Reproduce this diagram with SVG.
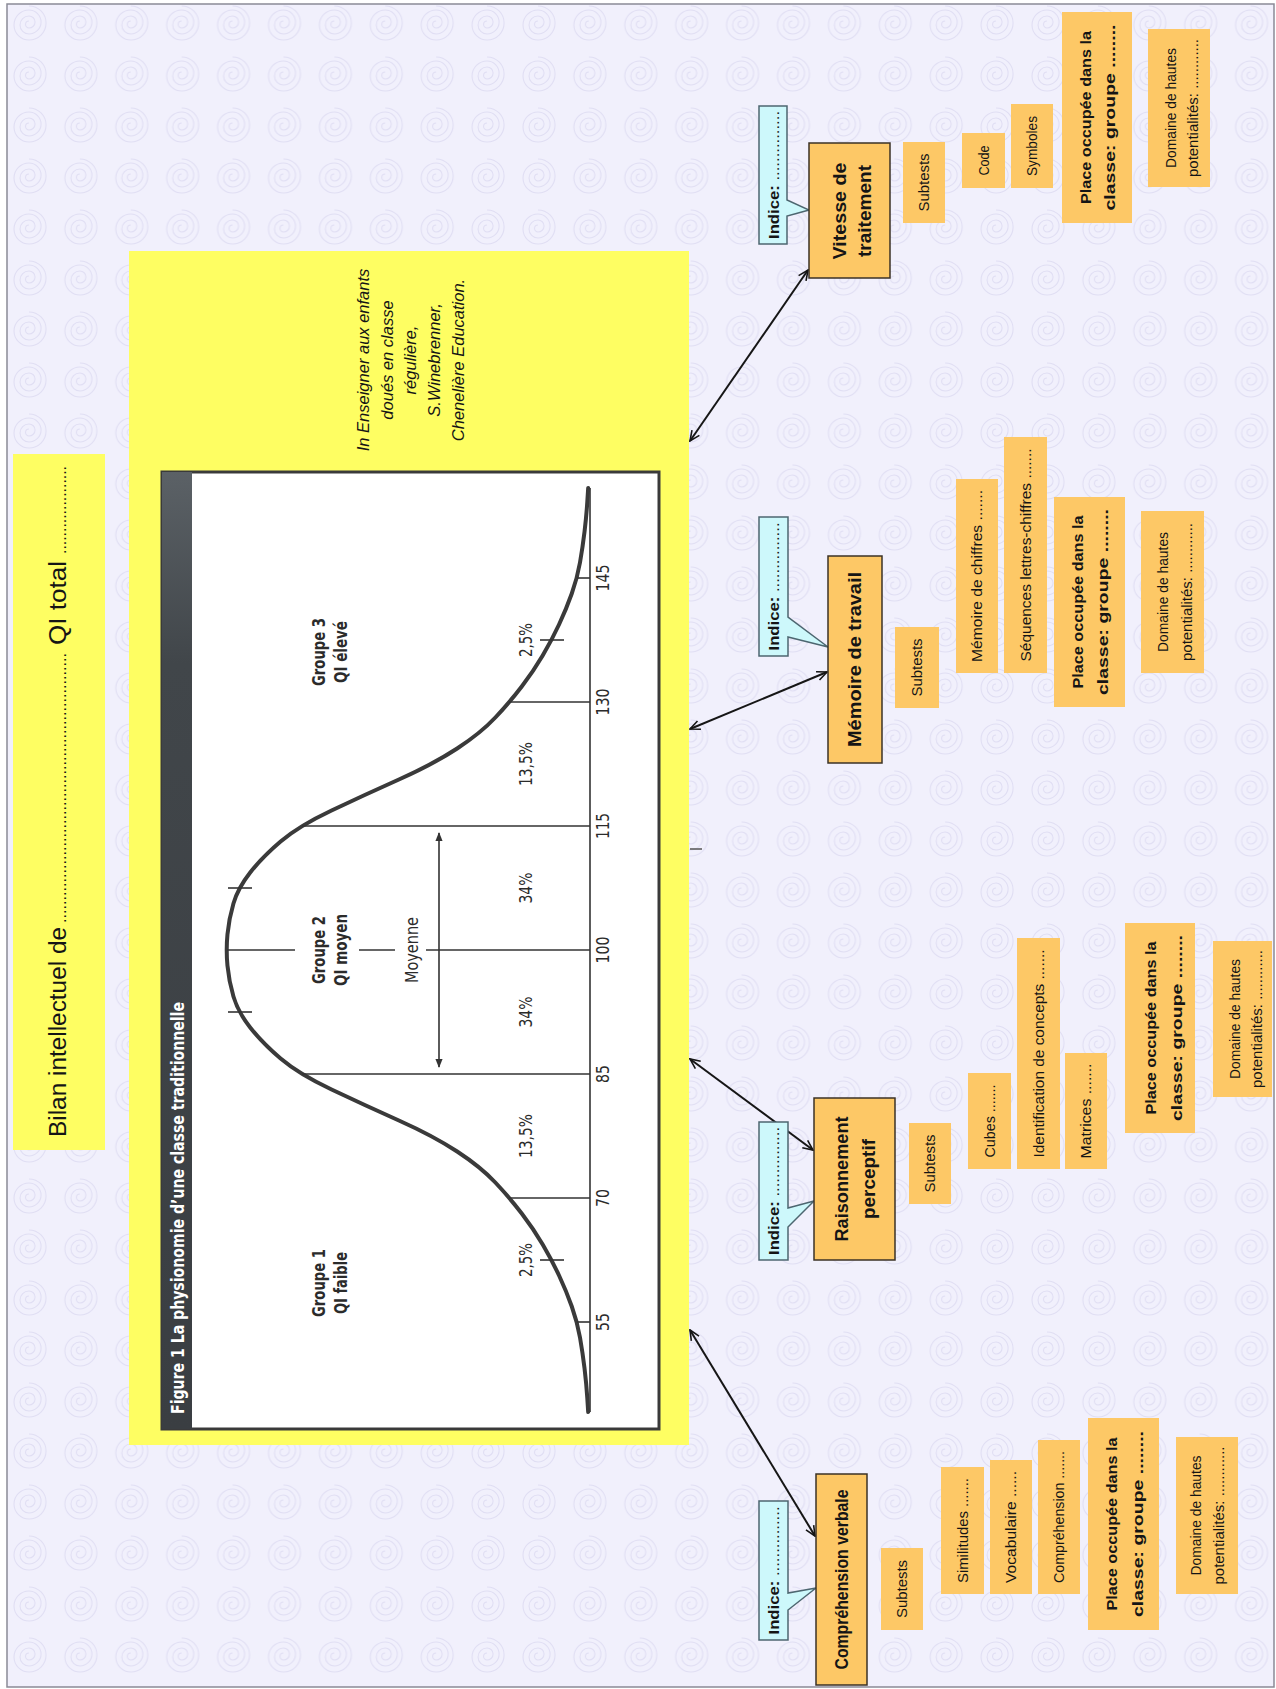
<svg xmlns="http://www.w3.org/2000/svg" width="1276" height="1689" viewBox="0 0 1276 1689">
<defs>
<style>
.t{font-family:"Liberation Sans","DejaVu Sans",sans-serif;fill:#151515;text-anchor:middle;dominant-baseline:central}
.b{font-weight:bold}
.c{font-family:"Liberation Sans Narrow","DejaVu Sans Condensed","Roboto Condensed","Liberation Sans",sans-serif;font-stretch:condensed;fill:#2b2b2b;text-anchor:middle;dominant-baseline:central}
.box{fill:#fdc866}
.main{fill:#fdc866;stroke:#3b3226;stroke-width:1.5}
.ind{fill:#cdf8fb;stroke:#4d6670;stroke-width:1.5}
.yel{fill:#fefe62}
.con{fill:none;stroke:#161616;stroke-width:2;marker-start:url(#ah);marker-end:url(#ah)}
.ln{stroke:#333;stroke-width:1.6;fill:none}
.s14{font-size:14px}
.s15{font-size:15px}
.s18{font-size:18px}
</style>
<pattern id="sp" patternUnits="userSpaceOnUse" x="2" y="-1" width="50.9" height="51">
<path d="M27,7 A17,17 0 0 1 27,41 A15,15 0 0 1 27,11 A12,12 0 0 1 27,35 A9,9 0 0 1 27,17 A6,6 0 0 1 27,29 A3.5,3.5 0 0 1 27,22" fill="none" stroke="#e0def3" stroke-width="1.1"/>
</pattern>
<linearGradient id="hdr" x1="0" y1="0" x2="0" y2="1">
<stop offset="0" stop-color="#5b6166"/>
<stop offset="0.2" stop-color="#41464a"/>
<stop offset="1" stop-color="#3a3e42"/>
</linearGradient>
<marker id="ah" viewBox="0 0 12 12" refX="11" refY="6" markerWidth="12" markerHeight="12" markerUnits="userSpaceOnUse" orient="auto-start-reverse">
<path d="M1,1.5 L11,6 L1,10.5" fill="none" stroke="#161616" stroke-width="1.6"/>
</marker>
<marker id="ch" viewBox="0 0 10 10" refX="9" refY="5" markerWidth="9" markerHeight="9" markerUnits="userSpaceOnUse" orient="auto-start-reverse">
<path d="M0,1 L10,5 L0,9 Z" fill="#333"/>
</marker>
</defs>

<rect width="1276" height="1689" fill="#ffffff"/>
<rect x="7" y="4" width="1267" height="1683" fill="#f1f0fc"/>
<rect x="7" y="4" width="1267" height="1683" fill="url(#sp)"/>
<rect x="7" y="4" width="1267" height="1683" fill="none" stroke="#8a8a96" stroke-width="1.5"/>

<g id="title">
<rect class="yel" x="13" y="454" width="92" height="696"/>
<text class="t" style="text-anchor:start;dominant-baseline:auto;font-size:23px" transform="translate(66,1137) rotate(-90)" textLength="210" lengthAdjust="spacingAndGlyphs">Bilan intellectuel de</text>
<text class="t" style="text-anchor:start;dominant-baseline:auto;font-size:16px" transform="translate(66,923) rotate(-90)" textLength="270" lengthAdjust="spacingAndGlyphs">............................................................</text>
<text class="t" style="text-anchor:start;dominant-baseline:auto;font-size:23px" transform="translate(66,645) rotate(-90)" textLength="84" lengthAdjust="spacingAndGlyphs">QI total</text>
<text class="t" style="text-anchor:start;dominant-baseline:auto;font-size:16px" transform="translate(66,554) rotate(-90)" textLength="88" lengthAdjust="spacingAndGlyphs">....................</text>
</g>

<g id="marks">
<line x1="131" y1="841" x2="131" y2="852" stroke="#222" stroke-width="1.5"/>
<line x1="690" y1="849" x2="702" y2="849" stroke="#555" stroke-width="1.5"/>
</g>

<g id="source-figure">
<rect class="yel" x="129" y="251" width="560" height="1194"/>
<g style="font-style:italic;font-size:16.5px">
<text class="t" transform="translate(363,360) rotate(-90)">In Enseigner aux enfants</text>
<text class="t" transform="translate(387,360) rotate(-90)">doués en classe</text>
<text class="t" transform="translate(410,360) rotate(-90)">régulière,</text>
<text class="t" transform="translate(434,360) rotate(-90)">S.Winebrenner,</text>
<text class="t" transform="translate(458,360) rotate(-90)">Chenelière Education.</text>
</g>
<rect x="162" y="472" width="497" height="957" fill="#ffffff" stroke="#3a3a3a" stroke-width="3"/>
<rect x="162" y="472" width="30" height="957" fill="url(#hdr)"/>
<text class="c b" style="fill:#ffffff;font-size:17px" transform="translate(178,1208) rotate(-90)" textLength="412" lengthAdjust="spacingAndGlyphs">Figure 1  La physionomie d’une classe traditionnelle</text>
<line class="ln" x1="590" y1="488" x2="590" y2="1412"/>
<path fill="none" stroke="#3a3a3a" stroke-width="4" stroke-linejoin="round" stroke-linecap="round" d="M588.2,488 L587.3,502 Q586.4,516 584.55,531.5 Q582.7,547 580,562.5 Q577.3,578 571.8,593.5 Q566.3,609 559.05,624.5 Q551.8,640 542.7,655.5 Q533.6,671 521.75,686.5 Q509.9,702 495.35,717.5 Q480.8,733 457.15,748.5 Q433.5,764 398.9,779.5 Q364.3,795 331.55,810.5 Q298.8,826 280.6,841.5 Q262.4,857 250.2,872.5 Q238,888 233.45,903.5 Q228.9,919 227.45,934.5 Q226,950 227.45,965.5 Q228.9,981 233.45,996.5 Q238,1012 250.2,1027.5 Q262.4,1043 280.6,1058.5 Q298.8,1074 331.55,1089.5 Q364.3,1105 398.9,1120.5 Q433.5,1136 457.15,1151.5 Q480.8,1167 495.35,1182.5 Q509.9,1198 521.75,1213.5 Q533.6,1229 542.7,1244.5 Q551.8,1260 559.05,1275.5 Q566.3,1291 571.8,1306.5 Q577.3,1322 580,1337.5 Q582.7,1353 584.55,1368.5 Q586.4,1384 587.3,1398 L588.2,1412"/>
<line class="ln" x1="577" y1="1322" x2="590" y2="1322"/>
<line class="ln" x1="509" y1="1198" x2="590" y2="1198"/>
<line class="ln" x1="302" y1="1074" x2="590" y2="1074"/>
<line class="ln" x1="302" y1="826" x2="590" y2="826"/>
<line class="ln" x1="509" y1="702" x2="590" y2="702"/>
<line class="ln" x1="577" y1="578" x2="590" y2="578"/>
<line class="ln" x1="227" y1="950" x2="295" y2="950"/>
<line class="ln" x1="359" y1="950" x2="395" y2="950"/>
<line class="ln" x1="426" y1="950" x2="590" y2="950"/>
<line class="ln" x1="540" y1="1260" x2="564" y2="1260"/>
<line class="ln" x1="540" y1="640" x2="564" y2="640"/>
<line class="ln" x1="228" y1="1012" x2="252" y2="1012"/>
<line class="ln" x1="228" y1="888" x2="252" y2="888"/>
<line class="ln" x1="439" y1="833" x2="439" y2="1067" marker-start="url(#ch)" marker-end="url(#ch)"/>
<g class="s18">
<text class="c b" transform="translate(318,1283) rotate(-90)" textLength="68" lengthAdjust="spacingAndGlyphs">Groupe 1</text>
<text class="c b" transform="translate(340,1283) rotate(-90)" textLength="62" lengthAdjust="spacingAndGlyphs">QI faible</text>
<text class="c b" transform="translate(318,950) rotate(-90)" textLength="68" lengthAdjust="spacingAndGlyphs">Groupe 2</text>
<text class="c b" transform="translate(340,950) rotate(-90)" textLength="72" lengthAdjust="spacingAndGlyphs">QI moyen</text>
<text class="c b" transform="translate(318,652) rotate(-90)" textLength="68" lengthAdjust="spacingAndGlyphs">Groupe 3</text>
<text class="c b" transform="translate(340,652) rotate(-90)" textLength="62" lengthAdjust="spacingAndGlyphs">QI élevé</text>
<text class="c" transform="translate(411,950) rotate(-90)" textLength="66" lengthAdjust="spacingAndGlyphs">Moyenne</text>
<text class="c" transform="translate(525,1260) rotate(-90)" textLength="34" lengthAdjust="spacingAndGlyphs">2,5%</text>
<text class="c" transform="translate(525,1136) rotate(-90)" textLength="44" lengthAdjust="spacingAndGlyphs">13,5%</text>
<text class="c" transform="translate(525,1012) rotate(-90)" textLength="31" lengthAdjust="spacingAndGlyphs">34%</text>
<text class="c" transform="translate(525,888) rotate(-90)" textLength="31" lengthAdjust="spacingAndGlyphs">34%</text>
<text class="c" transform="translate(525,764) rotate(-90)" textLength="44" lengthAdjust="spacingAndGlyphs">13,5%</text>
<text class="c" transform="translate(525,640) rotate(-90)" textLength="34" lengthAdjust="spacingAndGlyphs">2,5%</text>
<text class="c" transform="translate(602,1322) rotate(-90)" textLength="18" lengthAdjust="spacingAndGlyphs">55</text>
<text class="c" transform="translate(602,1198) rotate(-90)" textLength="18" lengthAdjust="spacingAndGlyphs">70</text>
<text class="c" transform="translate(602,1074) rotate(-90)" textLength="18" lengthAdjust="spacingAndGlyphs">85</text>
<text class="c" transform="translate(602,950) rotate(-90)" textLength="27" lengthAdjust="spacingAndGlyphs">100</text>
<text class="c" transform="translate(602,826) rotate(-90)" textLength="26" lengthAdjust="spacingAndGlyphs">115</text>
<text class="c" transform="translate(602,702) rotate(-90)" textLength="27" lengthAdjust="spacingAndGlyphs">130</text>
<text class="c" transform="translate(602,578) rotate(-90)" textLength="27" lengthAdjust="spacingAndGlyphs">145</text>
</g>
</g>

<g id="connectors">
<line class="con" x1="690" y1="441" x2="808" y2="270"/>
<line class="con" x1="690" y1="729" x2="827" y2="672"/>
<line class="con" x1="690" y1="1059" x2="813" y2="1150"/>
<line class="con" x1="690" y1="1330" x2="815" y2="1536"/>
</g>

<g id="vitesse-de-traitement">
<path class="ind" d="M759,106 H787 V200 L809,210 L787,216 V244 H759 Z"/>
<text class="t s14" transform="translate(774,175) rotate(-90)" textLength="128" lengthAdjust="spacingAndGlyphs"><tspan font-weight="bold">Indice:</tspan> ...............</text>
<rect class="main" x="809" y="143" width="81" height="135"/>
<text class="t b s18" transform="translate(840,211) rotate(-90)" textLength="97" lengthAdjust="spacingAndGlyphs">Vitesse de</text>
<text class="t b s18" transform="translate(865,211) rotate(-90)" textLength="92" lengthAdjust="spacingAndGlyphs">traitement</text>
<rect class="box" x="903" y="142" width="42" height="81"/>
<text class="t s14" transform="translate(924,182.5) rotate(-90)" textLength="58" lengthAdjust="spacingAndGlyphs">Subtests</text>
<rect class="box" x="962" y="133" width="43" height="55"/>
<text class="t s14" transform="translate(983.5,160.5) rotate(-90)" textLength="30" lengthAdjust="spacingAndGlyphs">Code</text>
<rect class="box" x="1011" y="104" width="42" height="84"/>
<text class="t s14" transform="translate(1032,146) rotate(-90)" textLength="60" lengthAdjust="spacingAndGlyphs">Symboles</text>
<rect class="box" x="1062" y="12" width="70" height="211"/>
<text class="t b s15" transform="translate(1085,117.5) rotate(-90)" textLength="173" lengthAdjust="spacingAndGlyphs">Place occupée dans la</text>
<text class="t b s15" transform="translate(1109,117.5) rotate(-90)" textLength="186" lengthAdjust="spacingAndGlyphs">classe: groupe ........</text>
<rect class="box" x="1148" y="29" width="62" height="158"/>
<text class="t s14" transform="translate(1170.5,108) rotate(-90)" textLength="120" lengthAdjust="spacingAndGlyphs">Domaine de hautes</text>
<text class="t s14" transform="translate(1193,108) rotate(-90)" textLength="138" lengthAdjust="spacingAndGlyphs">potentialités: ............</text>
</g>

<g id="memoire-de-travail">
<path class="ind" d="M759,517 H788 V617 L828,647 L788,637 V656 H759 Z"/>
<text class="t s14" transform="translate(774,586.5) rotate(-90)" textLength="128" lengthAdjust="spacingAndGlyphs"><tspan font-weight="bold">Indice:</tspan> ...............</text>
<rect class="main" x="828" y="556" width="54" height="207"/>
<text class="t b s18" transform="translate(855,659.5) rotate(-90)" textLength="175" lengthAdjust="spacingAndGlyphs">Mémoire de travail</text>
<rect class="box" x="895" y="627" width="44" height="81"/>
<text class="t s14" transform="translate(917,667.5) rotate(-90)" textLength="58" lengthAdjust="spacingAndGlyphs">Subtests</text>
<rect class="box" x="956" y="479" width="42" height="194"/>
<text class="t s14" transform="translate(977,576) rotate(-90)" textLength="172" lengthAdjust="spacingAndGlyphs">Mémoire de chiffres  .......</text>
<rect class="box" x="1004" y="437" width="43" height="236"/>
<text class="t s14" transform="translate(1025.5,555) rotate(-90)" textLength="213" lengthAdjust="spacingAndGlyphs">Séquences lettres-chiffres  .......</text>
<rect class="box" x="1054" y="497" width="71" height="210"/>
<text class="t b s15" transform="translate(1077,602) rotate(-90)" textLength="173" lengthAdjust="spacingAndGlyphs">Place occupée dans la</text>
<text class="t b s15" transform="translate(1102,602) rotate(-90)" textLength="186" lengthAdjust="spacingAndGlyphs">classe: groupe ........</text>
<rect class="box" x="1141" y="511" width="63" height="162"/>
<text class="t s14" transform="translate(1163,592) rotate(-90)" textLength="120" lengthAdjust="spacingAndGlyphs">Domaine de hautes</text>
<text class="t s14" transform="translate(1187,592) rotate(-90)" textLength="138" lengthAdjust="spacingAndGlyphs">potentialités: ............</text>
</g>

<g id="raisonnement-perceptif">
<path class="ind" d="M759,1122 H788 V1208 L814,1201 L788,1227 V1260 H759 Z"/>
<text class="t s14" transform="translate(774,1191) rotate(-90)" textLength="128" lengthAdjust="spacingAndGlyphs"><tspan font-weight="bold">Indice:</tspan> ...............</text>
<rect class="main" x="814" y="1098" width="81" height="162"/>
<text class="t b s18" transform="translate(841.5,1179) rotate(-90)" textLength="125" lengthAdjust="spacingAndGlyphs">Raisonnement</text>
<text class="t b s18" transform="translate(868.5,1179) rotate(-90)" textLength="80" lengthAdjust="spacingAndGlyphs">perceptif</text>
<rect class="box" x="909" y="1123" width="42" height="81"/>
<text class="t s14" transform="translate(930,1163.5) rotate(-90)" textLength="58" lengthAdjust="spacingAndGlyphs">Subtests</text>
<rect class="box" x="968" y="1073" width="43" height="96"/>
<text class="t s14" transform="translate(989.5,1121) rotate(-90)" textLength="73" lengthAdjust="spacingAndGlyphs">Cubes  .......</text>
<rect class="box" x="1017" y="938" width="43" height="231"/>
<text class="t s14" transform="translate(1038.5,1053.5) rotate(-90)" textLength="208" lengthAdjust="spacingAndGlyphs">Identification de concepts  .......</text>
<rect class="box" x="1065" y="1053" width="42" height="116"/>
<text class="t s14" transform="translate(1086,1111) rotate(-90)" textLength="95" lengthAdjust="spacingAndGlyphs">Matrices  .......</text>
<rect class="box" x="1125" y="923" width="70" height="210"/>
<text class="t b s15" transform="translate(1150,1028) rotate(-90)" textLength="173" lengthAdjust="spacingAndGlyphs">Place occupée dans la</text>
<text class="t b s15" transform="translate(1176,1028) rotate(-90)" textLength="186" lengthAdjust="spacingAndGlyphs">classe: groupe ........</text>
<rect class="box" x="1213" y="941" width="59" height="156"/>
<text class="t s14" transform="translate(1235,1019) rotate(-90)" textLength="120" lengthAdjust="spacingAndGlyphs">Domaine de hautes</text>
<text class="t s14" transform="translate(1257,1019) rotate(-90)" textLength="138" lengthAdjust="spacingAndGlyphs">potentialités: ............</text>
</g>

<g id="comprehension-verbale">
<path class="ind" d="M759,1501 H788 V1593 L816,1588 L788,1610 V1640 H759 Z"/>
<text class="t s14" transform="translate(774,1570.5) rotate(-90)" textLength="128" lengthAdjust="spacingAndGlyphs"><tspan font-weight="bold">Indice:</tspan> ...............</text>
<rect class="main" x="816" y="1474" width="51" height="211"/>
<text class="t b s18" transform="translate(842,1579.5) rotate(-90)" textLength="180" lengthAdjust="spacingAndGlyphs">Compréhension verbale</text>
<rect class="box" x="881" y="1548" width="42" height="82"/>
<text class="t s14" transform="translate(902,1589) rotate(-90)" textLength="58" lengthAdjust="spacingAndGlyphs">Subtests</text>
<rect class="box" x="941" y="1467" width="43" height="127"/>
<text class="t s14" transform="translate(962.5,1530.5) rotate(-90)" textLength="105" lengthAdjust="spacingAndGlyphs">Similitudes .......</text>
<rect class="box" x="990" y="1460" width="42" height="134"/>
<text class="t s14" transform="translate(1011,1527) rotate(-90)" textLength="112" lengthAdjust="spacingAndGlyphs">Vocabulaire  ......</text>
<rect class="box" x="1038" y="1440" width="42" height="154"/>
<text class="t s14" transform="translate(1059,1517) rotate(-90)" textLength="132" lengthAdjust="spacingAndGlyphs">Compréhension  .......</text>
<rect class="box" x="1088" y="1418" width="71" height="212"/>
<text class="t b s15" transform="translate(1111,1524) rotate(-90)" textLength="173" lengthAdjust="spacingAndGlyphs">Place occupée dans la</text>
<text class="t b s15" transform="translate(1137.5,1524) rotate(-90)" textLength="186" lengthAdjust="spacingAndGlyphs">classe: groupe ........</text>
<rect class="box" x="1176" y="1437" width="62" height="157"/>
<text class="t s14" transform="translate(1196,1515.5) rotate(-90)" textLength="120" lengthAdjust="spacingAndGlyphs">Domaine de hautes</text>
<text class="t s14" transform="translate(1219,1515.5) rotate(-90)" textLength="138" lengthAdjust="spacingAndGlyphs">potentialités: ............</text>
</g>
</svg>
